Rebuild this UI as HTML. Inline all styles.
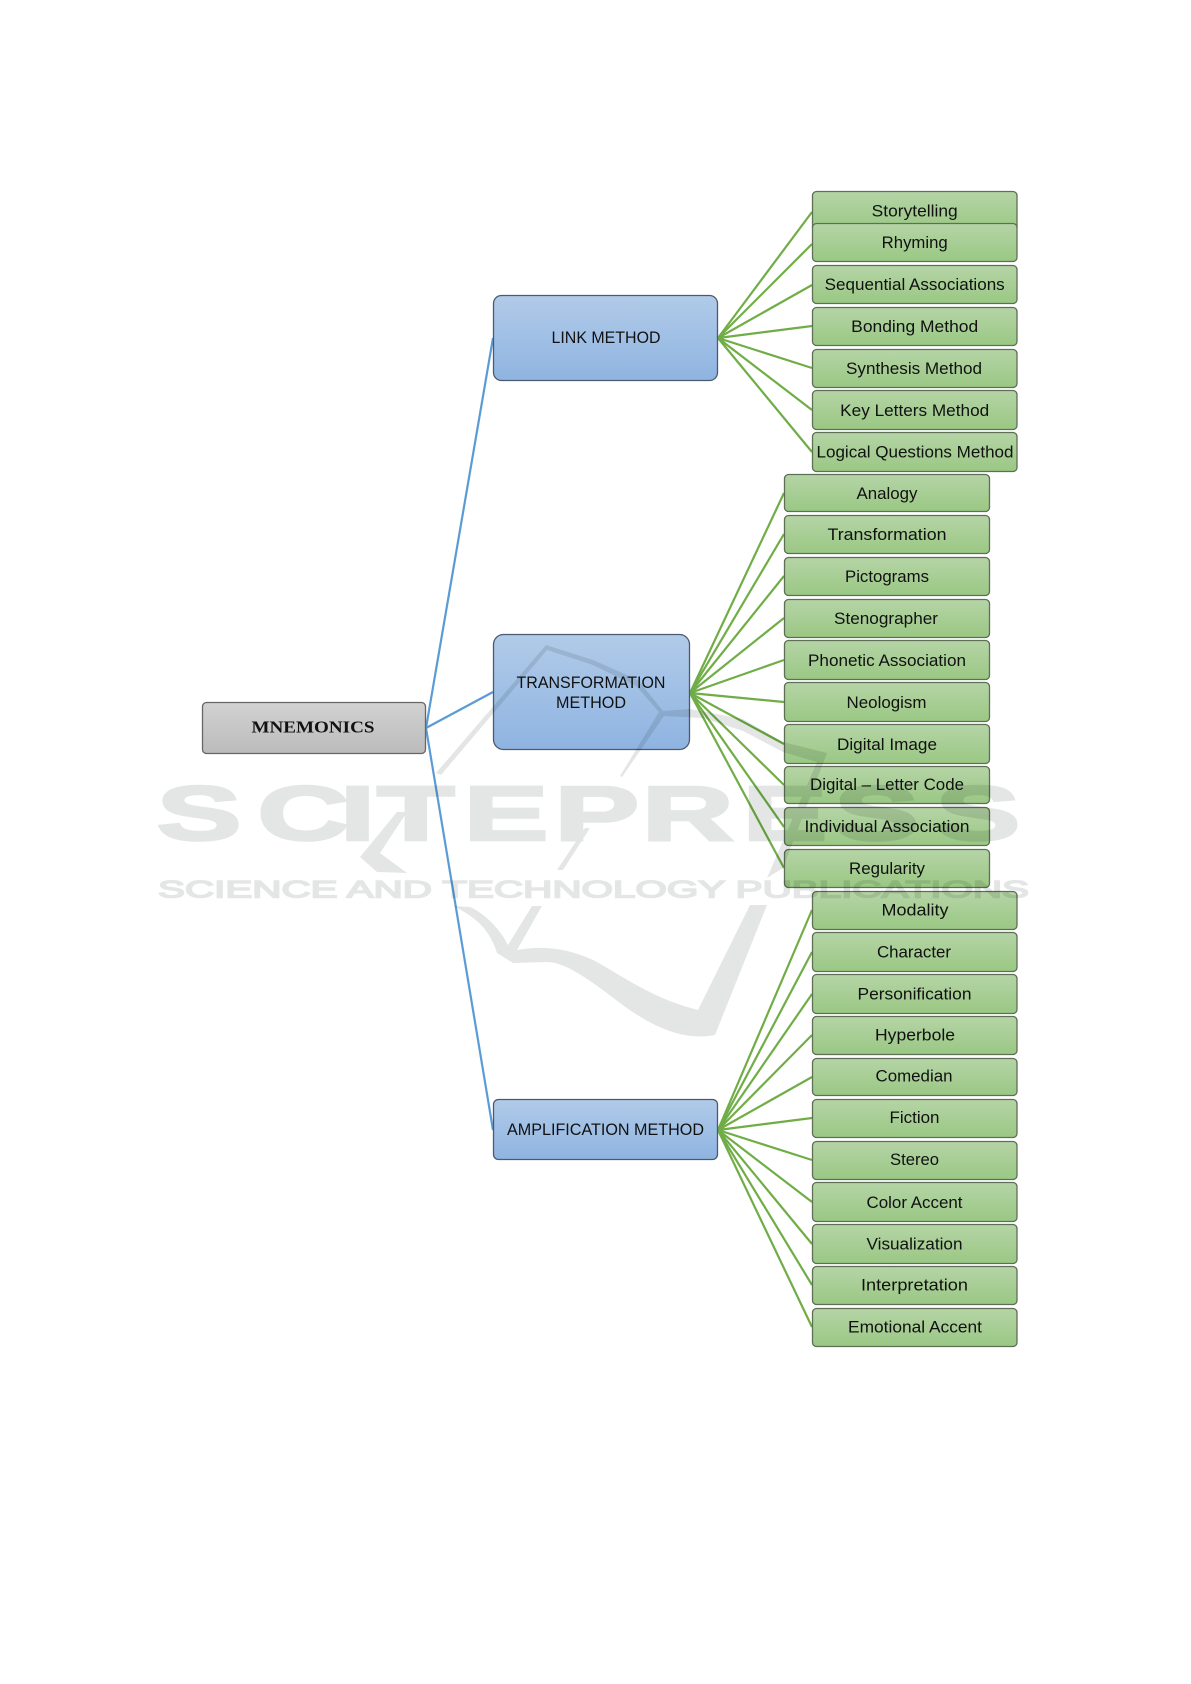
<!DOCTYPE html>
<html lang="en"><head><meta charset="utf-8"><title>Mnemonics</title>
<style>
html,body{margin:0;padding:0;background:#fff;width:1191px;height:1684px;overflow:hidden}
svg{display:block}
.b{stroke-width:1.3}
.lf{fill:url(#gr);stroke:#5e6f56}
.bl{fill:url(#bu);stroke:#4c5a6e}
.t{font:16.5px "Liberation Sans",sans-serif;fill:#111;text-anchor:middle}
.green line{stroke:#70ad47;stroke-width:2.2}
.blue line{stroke:#5b9bd5;stroke-width:2.2}
.wm{mix-blend-mode:multiply}
.wm text{font-family:"Liberation Sans",sans-serif;fill:#e4e6e5;stroke:#e4e6e5;stroke-linejoin:miter;vector-effect:non-scaling-stroke}
</style></head><body>
<svg width="1191" height="1684" viewBox="0 0 1191 1684" xmlns="http://www.w3.org/2000/svg">
<defs>
<linearGradient id="gr" x1="0" y1="0" x2="0" y2="1"><stop offset="0" stop-color="#b5d4a6"/><stop offset="1" stop-color="#9ac884"/></linearGradient>
<linearGradient id="bu" x1="0" y1="0" x2="0" y2="1"><stop offset="0" stop-color="#b1cbe9"/><stop offset="1" stop-color="#8fb4e1"/></linearGradient>
<linearGradient id="gy" x1="0" y1="0" x2="0" y2="1"><stop offset="0" stop-color="#d2d2d2"/><stop offset="1" stop-color="#bbbbbb"/></linearGradient>
</defs>
<rect width="1191" height="1684" fill="#fff"/>

<g class="blue">
<line x1="426" y1="728" x2="493" y2="338"/>
<line x1="426" y1="728" x2="493" y2="692"/>
<line x1="426" y1="728" x2="493" y2="1130"/>
</g>
<g class="green">
<line x1="718" y1="338" x2="812" y2="212"/>
<line x1="718" y1="338" x2="812" y2="244"/>
<line x1="718" y1="338" x2="812" y2="285"/>
<line x1="718" y1="338" x2="812" y2="326"/>
<line x1="718" y1="338" x2="812" y2="368"/>
<line x1="718" y1="338" x2="812" y2="410"/>
<line x1="718" y1="338" x2="812" y2="452"/>

<line x1="690" y1="693" x2="784" y2="493"/>
<line x1="690" y1="693" x2="784" y2="534"/>
<line x1="690" y1="693" x2="784" y2="576"/>
<line x1="690" y1="693" x2="784" y2="618"/>
<line x1="690" y1="693" x2="784" y2="660"/>
<line x1="690" y1="693" x2="784" y2="702"/>
<line x1="690" y1="693" x2="784" y2="744"/>
<line x1="690" y1="693" x2="784" y2="785"/>
<line x1="690" y1="693" x2="784" y2="827"/>
<line x1="690" y1="693" x2="784" y2="868"/>

<line x1="718" y1="1130" x2="812" y2="910"/>
<line x1="718" y1="1130" x2="812" y2="952"/>
<line x1="718" y1="1130" x2="812" y2="994"/>
<line x1="718" y1="1130" x2="812" y2="1035"/>
<line x1="718" y1="1130" x2="812" y2="1077"/>
<line x1="718" y1="1130" x2="812" y2="1118"/>
<line x1="718" y1="1130" x2="812" y2="1160"/>
<line x1="718" y1="1130" x2="812" y2="1202"/>
<line x1="718" y1="1130" x2="812" y2="1244"/>
<line x1="718" y1="1130" x2="812" y2="1285"/>
<line x1="718" y1="1130" x2="812" y2="1327"/>
</g>

<rect class="b" x="202.5" y="702.5" width="223" height="51" rx="4" fill="url(#gy)" stroke="#666"/>
<rect class="b bl" x="493.5" y="295.5" width="224" height="85" rx="8"/>
<rect class="b bl" x="493.5" y="634.5" width="196" height="115" rx="10"/>
<rect class="b bl" x="493.5" y="1099.5" width="224" height="60" rx="5"/>

<rect class="b lf" x="812.5" y="191.5" width="204.5" height="40" rx="4"/>
<rect class="b lf" x="812.5" y="223.5" width="204.5" height="38" rx="4"/>
<rect class="b lf" x="812.5" y="265.5" width="204.5" height="38" rx="4"/>
<rect class="b lf" x="812.5" y="307.5" width="204.5" height="38" rx="4"/>
<rect class="b lf" x="812.5" y="349.5" width="204.5" height="38" rx="4"/>
<rect class="b lf" x="812.5" y="390.5" width="204.5" height="39" rx="4"/>
<rect class="b lf" x="812.5" y="432.5" width="204.5" height="39" rx="4"/>

<rect class="b lf" x="784.5" y="474.5" width="205" height="37" rx="4"/>
<rect class="b lf" x="784.5" y="515.5" width="205" height="38" rx="4"/>
<rect class="b lf" x="784.5" y="557.5" width="205" height="38" rx="4"/>
<rect class="b lf" x="784.5" y="599.5" width="205" height="38" rx="4"/>
<rect class="b lf" x="784.5" y="640.5" width="205" height="39" rx="4"/>
<rect class="b lf" x="784.5" y="682.5" width="205" height="39" rx="4"/>
<rect class="b lf" x="784.5" y="724.5" width="205" height="39" rx="4"/>
<rect class="b lf" x="784.5" y="766.5" width="205" height="37" rx="4"/>
<rect class="b lf" x="784.5" y="807.5" width="205" height="38" rx="4"/>
<rect class="b lf" x="784.5" y="849.5" width="205" height="38" rx="4"/>

<rect class="b lf" x="812.5" y="891.5" width="204.5" height="38" rx="4"/>
<rect class="b lf" x="812.5" y="932.5" width="204.5" height="39" rx="4"/>
<rect class="b lf" x="812.5" y="974.5" width="204.5" height="39" rx="4"/>
<rect class="b lf" x="812.5" y="1016.5" width="204.5" height="38" rx="4"/>
<rect class="b lf" x="812.5" y="1058.5" width="204.5" height="37" rx="4"/>
<rect class="b lf" x="812.5" y="1099.5" width="204.5" height="38" rx="4"/>
<rect class="b lf" x="812.5" y="1141.5" width="204.5" height="38" rx="4"/>
<rect class="b lf" x="812.5" y="1182.5" width="204.5" height="39" rx="4"/>
<rect class="b lf" x="812.5" y="1224.5" width="204.5" height="39" rx="4"/>
<rect class="b lf" x="812.5" y="1266.5" width="204.5" height="38" rx="4"/>
<rect class="b lf" x="812.5" y="1308.5" width="204.5" height="38" rx="4"/>

<text x="313" y="732.5" text-anchor="middle" font-family="Liberation Serif, serif" font-weight="700" font-size="17" fill="#111" textLength="123" lengthAdjust="spacingAndGlyphs">MNEMONICS</text>
<text class="t" x="606" y="343" textLength="109" lengthAdjust="spacingAndGlyphs">LINK METHOD</text>
<text class="t" x="591" y="688" textLength="149" lengthAdjust="spacingAndGlyphs">TRANSFORMATION</text>
<text class="t" x="591" y="708" textLength="70" lengthAdjust="spacingAndGlyphs">METHOD</text>
<text class="t" x="605.5" y="1135" textLength="197" lengthAdjust="spacingAndGlyphs">AMPLIFICATION METHOD</text>

<text class="t" x="914.7" y="216.5" textLength="86" lengthAdjust="spacingAndGlyphs">Storytelling</text>
<text class="t" x="914.7" y="248" textLength="66" lengthAdjust="spacingAndGlyphs">Rhyming</text>
<text class="t" x="914.7" y="290" textLength="180" lengthAdjust="spacingAndGlyphs">Sequential Associations</text>
<text class="t" x="914.7" y="332" textLength="127" lengthAdjust="spacingAndGlyphs">Bonding Method</text>
<text class="t" x="914" y="374" textLength="136" lengthAdjust="spacingAndGlyphs">Synthesis Method</text>
<text class="t" x="914.7" y="416" textLength="149" lengthAdjust="spacingAndGlyphs">Key Letters Method</text>
<text class="t" x="915" y="457.5" textLength="197" lengthAdjust="spacingAndGlyphs">Logical Questions Method</text>

<text class="t" x="887" y="499" textLength="61" lengthAdjust="spacingAndGlyphs">Analogy</text>
<text class="t" x="887" y="540" textLength="119" lengthAdjust="spacingAndGlyphs">Transformation</text>
<text class="t" x="887" y="582" textLength="84" lengthAdjust="spacingAndGlyphs">Pictograms</text>
<text class="t" x="886" y="624" textLength="104" lengthAdjust="spacingAndGlyphs">Stenographer</text>
<text class="t" x="887" y="666" textLength="158" lengthAdjust="spacingAndGlyphs">Phonetic Association</text>
<text class="t" x="886.5" y="708" textLength="80" lengthAdjust="spacingAndGlyphs">Neologism</text>
<text class="t" x="887" y="750" textLength="100" lengthAdjust="spacingAndGlyphs">Digital Image</text>
<text class="t" x="887" y="790" textLength="154" lengthAdjust="spacingAndGlyphs">Digital – Letter Code</text>
<text class="t" x="887" y="832" textLength="165" lengthAdjust="spacingAndGlyphs">Individual Association</text>
<text class="t" x="887" y="874" textLength="76" lengthAdjust="spacingAndGlyphs">Regularity</text>

<text class="t" x="915" y="915.5" textLength="67" lengthAdjust="spacingAndGlyphs">Modality</text>
<text class="t" x="914" y="957.5" textLength="74" lengthAdjust="spacingAndGlyphs">Character</text>
<text class="t" x="914.5" y="999.5" textLength="114" lengthAdjust="spacingAndGlyphs">Personification</text>
<text class="t" x="915" y="1040.5" textLength="80" lengthAdjust="spacingAndGlyphs">Hyperbole</text>
<text class="t" x="914" y="1081.5" textLength="77" lengthAdjust="spacingAndGlyphs">Comedian</text>
<text class="t" x="914.5" y="1123" textLength="50" lengthAdjust="spacingAndGlyphs">Fiction</text>
<text class="t" x="914.5" y="1165" textLength="49" lengthAdjust="spacingAndGlyphs">Stereo</text>
<text class="t" x="914.5" y="1208" textLength="96" lengthAdjust="spacingAndGlyphs">Color Accent</text>
<text class="t" x="914.5" y="1249.5" textLength="96" lengthAdjust="spacingAndGlyphs">Visualization</text>
<text class="t" x="914.5" y="1290.5" textLength="107" lengthAdjust="spacingAndGlyphs">Interpretation</text>
<text class="t" x="915" y="1332.5" textLength="134" lengthAdjust="spacingAndGlyphs">Emotional Accent</text>

<g class="wm">
<text transform="scale(1.65,1)" x="95 156 206 228.5 281 336 389 450 505.5 567" y="840" font-size="77" font-weight="700" stroke-width="3.5">SCITEPRESS</text>
<text x="158" y="897.5" font-size="24" stroke-width="1.5" textLength="871" lengthAdjust="spacingAndGlyphs">SCIENCE AND TECHNOLOGY PUBLICATIONS</text>
<g fill="#e4e6e5">
<polygon points="546,645 593,660 638,680 663,711 690,709 743,719 783,742 827,753 783,868 767,878 817,762 783,752 743,731 703,718 664,716 622,777 620,776 659,712 636,686 593,665 547,650 441,775 436,773"/>
<polygon points="407,812 380,853 407,873 377,872 360,857 397,812"/>
<polygon points="590,828 563,870 557,870 585,828"/>
<path d="M453,906 L470,907 C480,911 498,925 508,945 L532,906 L542,906 L517,950 C535,947 560,945 593,960 C620,974 650,998 698,1010 L750,905 L767,905 L715,1035 C690,1040 660,1033 620,1003 C590,980 565,962 547,962 L513,963 L497,953 C490,930 475,916 453,906 Z"/>
</g>
</g>
</svg>
</body></html>
